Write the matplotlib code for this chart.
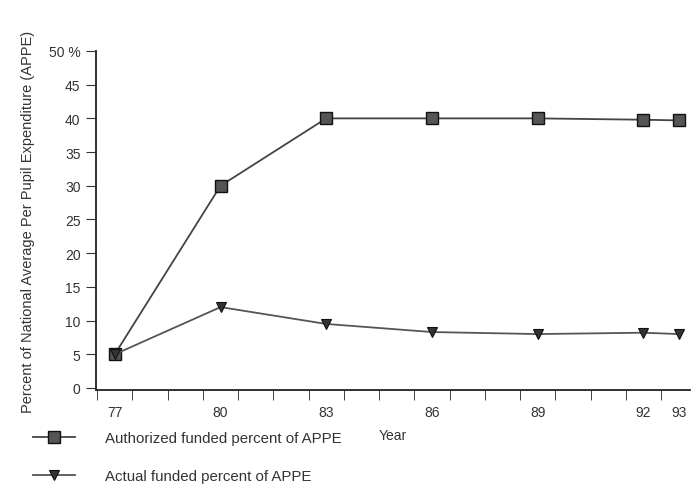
import matplotlib.pyplot as plt
import numpy as np

years = [77, 80, 83, 86, 89, 92, 93]
authorized = [5.0, 30.0, 40.0, 40.0, 40.0, 39.8, 39.7]
actual = [5.0, 12.0, 9.5, 8.3, 8.0, 8.2, 8.0]
year_labels = ['77', '80', '83', '86', '89', '92', '93']
y_ticks = [0, 5, 10, 15, 20, 25, 30, 35, 40, 45, 50]
y_labels = ['0', '5', '10', '15', '20', '25', '30', '35', '40', '45', '50 %']

plt.rcParams['font.family'] = ['Liberation Sans', 'DejaVu Sans']
txt = '#333333'

fig = plt.figure(figsize=(6.99, 4.89), dpi=100)
ax = fig.add_axes([0.137, 0.2004, 0.85, 0.6933])

l1, = ax.plot(years, authorized, color='#444444', lw=1.3, marker='s', ms=8.5,
              mfc='#555555', mec='#111111', mew=1.0)
l2, = ax.plot(years, actual, color='#555555', lw=1.3, marker='v', ms=6.5,
              mfc='#333333', mec='#111111', mew=0.8)

ax.set_xlim(76.46, 93.32)
ax.set_ylim(-0.3, 50)

ax.spines['top'].set_visible(False)
ax.spines['right'].set_visible(False)
ax.spines['left'].set_color('#222222')
ax.spines['bottom'].set_color('#222222')
ax.spines['left'].set_linewidth(1.3)
ax.spines['bottom'].set_linewidth(1.3)

ax.set_xticks(years)
ax.set_xticklabels(year_labels, fontsize=10, color=txt)
ax.tick_params(axis='x', which='major', length=0, pad=11)
ax.set_xticks(np.arange(76.5, 93, 1.0), minor=True)
ax.tick_params(axis='x', which='minor', length=7, direction='out', color='#222222')

ax.set_yticks(y_ticks)
ax.set_yticklabels(y_labels, fontsize=10, color=txt)
ax.tick_params(axis='y', length=7, direction='out', color='#333333', pad=4)

ax.set_xlabel('Year', fontsize=10, color=txt, labelpad=6)
ax.set_ylabel('Percent of National Average Per Pupil Expenditure (APPE)',
              fontsize=10.5, color=txt, labelpad=10)

fig.legend([l1, l2], ['Authorized funded percent of APPE', 'Actual funded percent of APPE'],
           loc='upper left', bbox_to_anchor=(0.038, 0.128), frameon=False,
           fontsize=10.8, labelcolor=txt, handlelength=2.8, handletextpad=2.0,
           labelspacing=1.6, borderaxespad=0)

fig.savefig('out.png', dpi=100)
